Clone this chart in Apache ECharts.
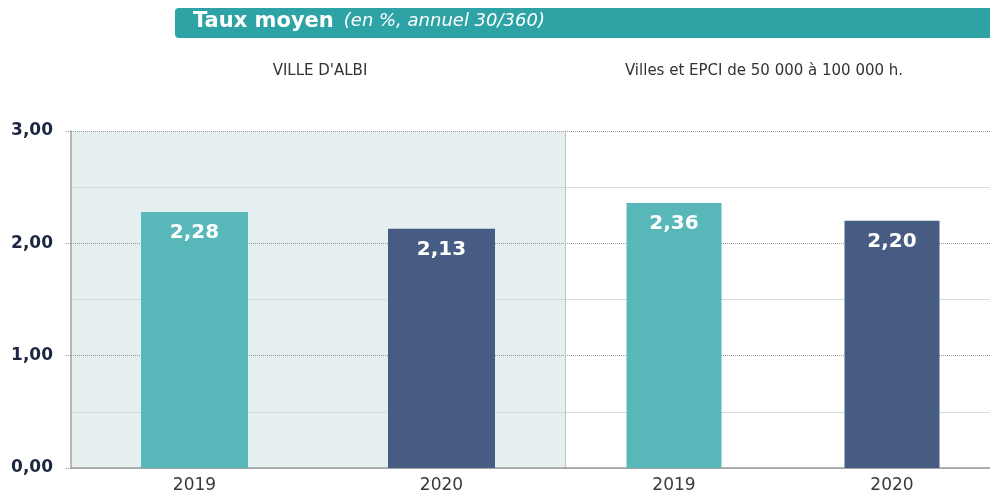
<!DOCTYPE html>
<html>
<head>
<meta charset="utf-8">
<script src="https://cdn.jsdelivr.net/npm/echarts@6/dist/echarts.min.js"></script>
<style>
  html, body { margin: 0; padding: 0; background: #fff; overflow: hidden; }
  #bar { width: 1001px; height: 494px; }
</style>
</head>
<body>
<div id="bar"></div>
<script>
// data
var categories = ['2019', '2020']
var villeAlbi = [2.28, 2.13]
var strate = [2.36, 2.20]
var yTicks = [0, 1, 2, 3]

var barColors = ['#58b7b9', '#465c82']
var font = 'DejaVu Sans'

function fmt(v) {
	return Number(v).toFixed(2).replace('.', ',')
}

function barData(values) {
	return values.map(function (v, i) {
		return { value: v, itemStyle: { color: barColors[i] } }
	})
}

// the right panel runs past the photo's right edge, so the chart is a bit wider than the window
let myChart = echarts.init(document.getElementById('bar'))

var labelOption = {
	show: true,
	position: 'insideTop',
	distance: 11,
	color: '#fff',
	fontFamily: font,
	fontWeight: 'bold',
	fontSize: 20,
	formatter: function (p) { return fmt(p.value) }
}

function yAxis(idx, first) {
	return {
		type: 'value',
		gridIndex: idx,
		min: yTicks[0],
		max: yTicks[yTicks.length - 1],
		interval: 1,
		axisLine: {
			show: true,
			lineStyle: first ? { color: '#a3a3a3', width: 1.5 } : { color: '#b5b5b5', type: 'dotted' }
		},
		axisTick: { show: first, length: 6, lineStyle: { color: '#999', type: 'dotted' } },
		axisLabel: {
			show: first,
			margin: 18,
			color: '#1c2742',
			fontFamily: font,
			fontWeight: 'bold',
			fontSize: 17,
			formatter: fmt
		},
		splitLine: { show: true, lineStyle: { color: '#9a9a9a', type: 'dotted' } },
		minorTick: { show: false, splitNumber: 2 },
		minorSplitLine: { show: true, lineStyle: { color: '#d6dcdc' } }
	}
}

function xAxis(idx) {
	return {
		type: 'category',
		gridIndex: idx,
		data: categories,
		axisTick: { show: false },
		axisLine: { lineStyle: { color: '#9a9a9a', width: 1.5 } },
		axisLabel: { margin: 9, color: '#3a3a3a', fontFamily: font, fontSize: 17 }
	}
}

option = {
	animation: false,
	title: {
		text: '{a|Taux moyen}  {b|(en %, annuel 30/360)}',
		left: 193,
		top: 11,
		padding: 0,
		z: 10,
		textStyle: {
			rich: {
				a: { color: '#fff', fontFamily: font, fontWeight: 'bold', fontSize: 21 },
				b: { color: '#fff', fontFamily: font, fontStyle: 'italic', fontWeight: 'normal', fontSize: 18 }
			}
		}
	},
	graphic: [
		{ type: 'rect', z: 0, shape: { x: 175, y: 8, width: 830, height: 30, r: 4 }, style: { fill: '#2ea3a6' } },
		{ type: 'text', x: 320, y: 71, style: { text: "VILLE D'ALBI", fill: '#333', font: '15px "DejaVu Sans"', align: 'center', verticalAlign: 'middle' } },
		{ type: 'text', x: 764, y: 71, style: { text: 'Villes et EPCI de 50 000 à 100 000 h.', fill: '#333', font: '15px "DejaVu Sans"', align: 'center', verticalAlign: 'middle' } }
	],
	grid: [
		{ left: 71, top: 131, width: 494, height: 340, show: true, backgroundColor: '#e6eff0', borderWidth: 0 },
		{ left: 565, top: 131, width: 436, height: 340 }
	],
	xAxis: [xAxis(0), xAxis(1)],
	yAxis: [yAxis(0, true), yAxis(1, false)],
	series: [
		{
			name: "VILLE D'ALBI",
			type: 'bar',
			xAxisIndex: 0,
			yAxisIndex: 0,
			barWidth: 107,
			label: labelOption,
			data: barData(villeAlbi)
		},
		{
			name: 'Villes et EPCI de 50 000 à 100 000 h.',
			type: 'bar',
			xAxisIndex: 1,
			yAxisIndex: 1,
			barWidth: 95,
			label: labelOption,
			data: barData(strate)
		}
	]
}
myChart.setOption(option);
</script>
</body>
</html>
